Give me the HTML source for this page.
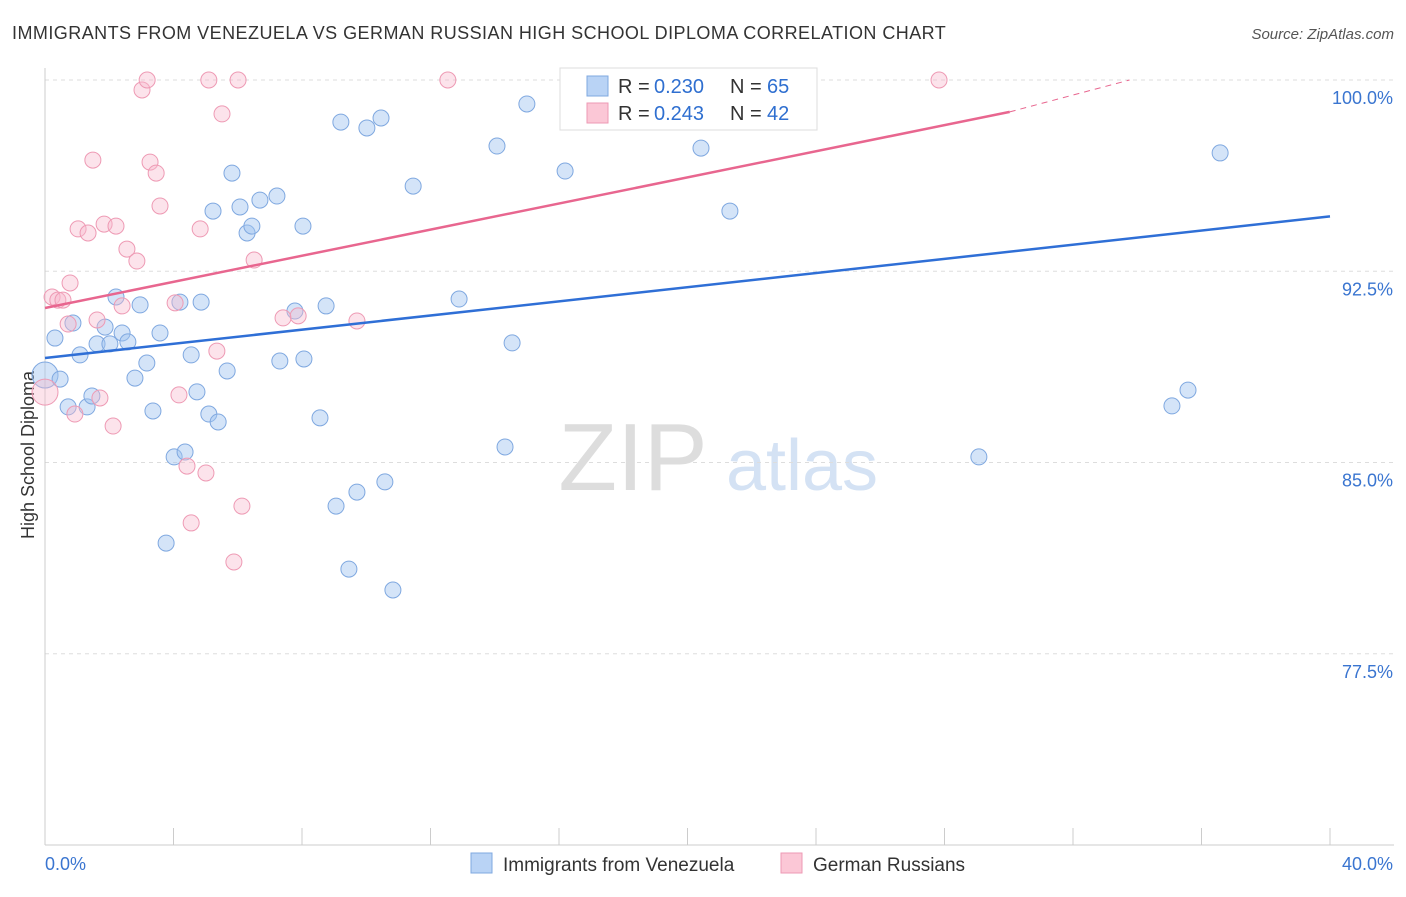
<!DOCTYPE html>
<html><head><meta charset="utf-8"><style>
body{margin:0;background:#fff;font-family:"Liberation Sans",sans-serif;}
svg text{font-family:"Liberation Sans",sans-serif;}
</style></head><body>
<svg id="chart" width="1406" height="892" viewBox="0 0 1406 892">
<text x="12" y="39" font-size="18" letter-spacing="0.45" fill="#333">IMMIGRANTS FROM VENEZUELA VS GERMAN RUSSIAN HIGH SCHOOL DIPLOMA CORRELATION CHART</text>
<text x="1394" y="39" font-size="15" fill="#555" font-style="italic" text-anchor="end">Source: ZipAtlas.com</text>
<text x="34" y="455" font-size="18" fill="#333" text-anchor="middle" transform="rotate(-90 34 455)">High School Diploma</text>
<g><text x="633" y="490" font-size="96" fill="#ddd" font-family="Liberation Serif" text-anchor="middle">ZIP</text><text x="802" y="490" font-size="72" fill="#d4e2f4" text-anchor="middle">atlas</text></g>
<g id="grid"></g><g id="axes"></g><g id="pts"></g><g id="trend"></g>
<g>
<rect x="560" y="68" width="257" height="62" fill="#fff" stroke="#ddd"/>
<rect x="587" y="76" width="21" height="20" fill="#b9d3f5" stroke="#7fa8e0"/>
<rect x="587" y="103" width="21" height="20" fill="#fbc7d6" stroke="#ee9ab4"/>
<text x="618" y="93" font-size="20" fill="#333">R =</text><text x="654" y="93" font-size="20" fill="#2f6fd0">0.230</text>
<text x="730" y="93" font-size="20" fill="#333">N =</text><text x="767" y="93" font-size="20" fill="#2f6fd0">65</text>
<text x="618" y="120" font-size="20" fill="#333">R =</text><text x="654" y="120" font-size="20" fill="#2f6fd0">0.243</text>
<text x="730" y="120" font-size="20" fill="#333">N =</text><text x="767" y="120" font-size="20" fill="#2f6fd0">42</text>
</g>
<g>
<rect x="471" y="853" width="21" height="20" fill="#b9d3f5" stroke="#7fa8e0"/>
<text x="503" y="871" font-size="19" fill="#333">Immigrants from Venezuela</text>
<rect x="781" y="853" width="21" height="20" fill="#fbc7d6" stroke="#ee9ab4"/>
<text x="813" y="871" font-size="19" fill="#333">German Russians</text>
</g>
</svg>
<script>
const yTicks=[100,92.5,85,77.5];
const yTickLabels=["100.0%","92.5%","85.0%","77.5%"];
const xTickLabels=["0.0%","40.0%"];
const blueX=[0,0.31,0.47,0.72,0.87,1.09,1.31,1.46,1.62,1.87,2.02,2.21,2.40,2.58,2.80,2.96,3.17,3.36,3.58,3.77,4.02,4.20,4.36,4.55,4.73,4.86,5.10,5.23,5.39,5.67,5.82,6.07,6.29,6.44,6.69,7.22,7.31,7.78,8.03,8.06,8.56,8.75,9.06,9.21,9.46,9.71,10.02,10.46,10.58,10.83,11.46,12.89,14.07,14.32,14.54,15.00,16.19,17.28,20.42,21.32,21.94,29.07,35.08,35.58,36.58];
const blueY=[88.43,89.88,88.27,87.18,90.47,89.22,87.18,87.61,89.65,90.31,89.65,91.49,90.08,89.73,88.31,91.18,88.90,87.02,90.08,81.84,85.22,91.29,85.41,89.22,87.77,91.29,86.90,94.86,86.59,88.59,96.35,95.02,94.00,94.27,95.29,95.45,88.98,90.94,94.27,89.06,86.75,91.14,83.29,98.35,80.82,83.84,98.12,98.51,84.24,80.00,95.84,91.41,97.41,85.61,89.69,99.06,96.43,100,97.33,94.86,100,85.22,87.22,87.84,97.14];
const pinkX=[0,0.22,0.40,0.56,0.78,0.72,0.93,1.03,1.34,1.49,1.62,1.71,1.84,2.12,2.21,2.40,2.55,2.86,3.02,3.18,3.27,3.46,3.58,4.05,4.17,4.42,4.55,4.83,5.01,5.10,5.35,5.51,6.01,6.13,5.88,6.51,7.41,7.88,9.71,12.54,27.83];
const pinkY=[87.76,91.49,91.37,91.37,92.04,90.43,86.90,94.16,94.00,96.86,90.59,87.53,94.35,86.43,94.27,91.14,93.37,92.90,99.61,100,96.78,96.35,95.06,91.26,87.65,84.86,82.63,94.16,84.59,100,89.37,98.67,100,83.29,81.10,92.94,90.67,90.75,90.55,100,100];
const blueTrend=[0,89.10,40,94.65];
const pinkTrend=[0,91.06,30.03,98.75,33.76,100];
const NS="http://www.w3.org/2000/svg";
const X=v=>45+v*32.125, Y=v=>80+(100-v)*25.5;
function mk(t,a,p){const e=document.createElementNS(NS,t);for(const k in a)e.setAttribute(k,a[k]);p.appendChild(e);return e;}
const grid=document.getElementById('grid'),axes=document.getElementById('axes');
yTicks.forEach((t,i)=>{
 const l=mk('line',{x1:45,x2:1394,y1:Y(t),y2:Y(t),stroke:'#ddd','stroke-dasharray':'4,4'},grid);
 
 
 const tx=mk('text',{x:1393,y:Y(t)+24,'font-size':18,fill:'#3a75d0','text-anchor':'end'},axes);
 tx.textContent=yTickLabels[i];
 
 
});
mk('line',{x1:45,x2:45,y1:68,y2:845,stroke:'#ccc'},axes);
mk('line',{x1:45,x2:1394,y1:845,y2:845,stroke:'#ccc'},axes);
for(let i=0;i<=10;i++){mk('line',{x1:X(i*4),x2:X(i*4),y1:828,y2:845,stroke:'#ccc'},axes);}
[[0,'start',45],[1,'end',1393]].forEach(([i,a,x])=>{const t=mk('text',{x:x,y:870,'font-size':18,fill:'#3a75d0','text-anchor':a},axes);t.textContent=xTickLabels[i];
 
 });
const pts=document.getElementById('pts');
blueX.forEach((x,i)=>{const c=mk('circle',{cx:X(x),cy:Y(blueY[i]),r:i==0?13:8,fill:'rgba(160,195,240,0.45)',stroke:'#7fa8e0','stroke-width':1},pts);
 
 });
pinkX.forEach((x,i)=>{const c=mk('circle',{cx:X(x),cy:Y(pinkY[i]),r:i==0?13:8,fill:'rgba(248,185,205,0.4)',stroke:'#ee9ab4','stroke-width':1},pts);
 
 });
const tr=document.getElementById('trend');
const b=mk('line',{x1:X(blueTrend[0]),y1:Y(blueTrend[1]),x2:X(blueTrend[2]),y2:Y(blueTrend[3]),stroke:'#2f6fd6','stroke-width':2.5},tr);


const p=mk('line',{x1:X(pinkTrend[0]),y1:Y(pinkTrend[1]),x2:X(pinkTrend[2]),y2:Y(pinkTrend[3]),stroke:'#e8668f','stroke-width':2.5},tr);


const pd=mk('line',{x1:X(pinkTrend[2]),y1:Y(pinkTrend[3]),x2:X(pinkTrend[4]),y2:Y(pinkTrend[5]),stroke:'#e8668f','stroke-width':1,'stroke-dasharray':'6,5'},tr);


</script>
</body></html>
